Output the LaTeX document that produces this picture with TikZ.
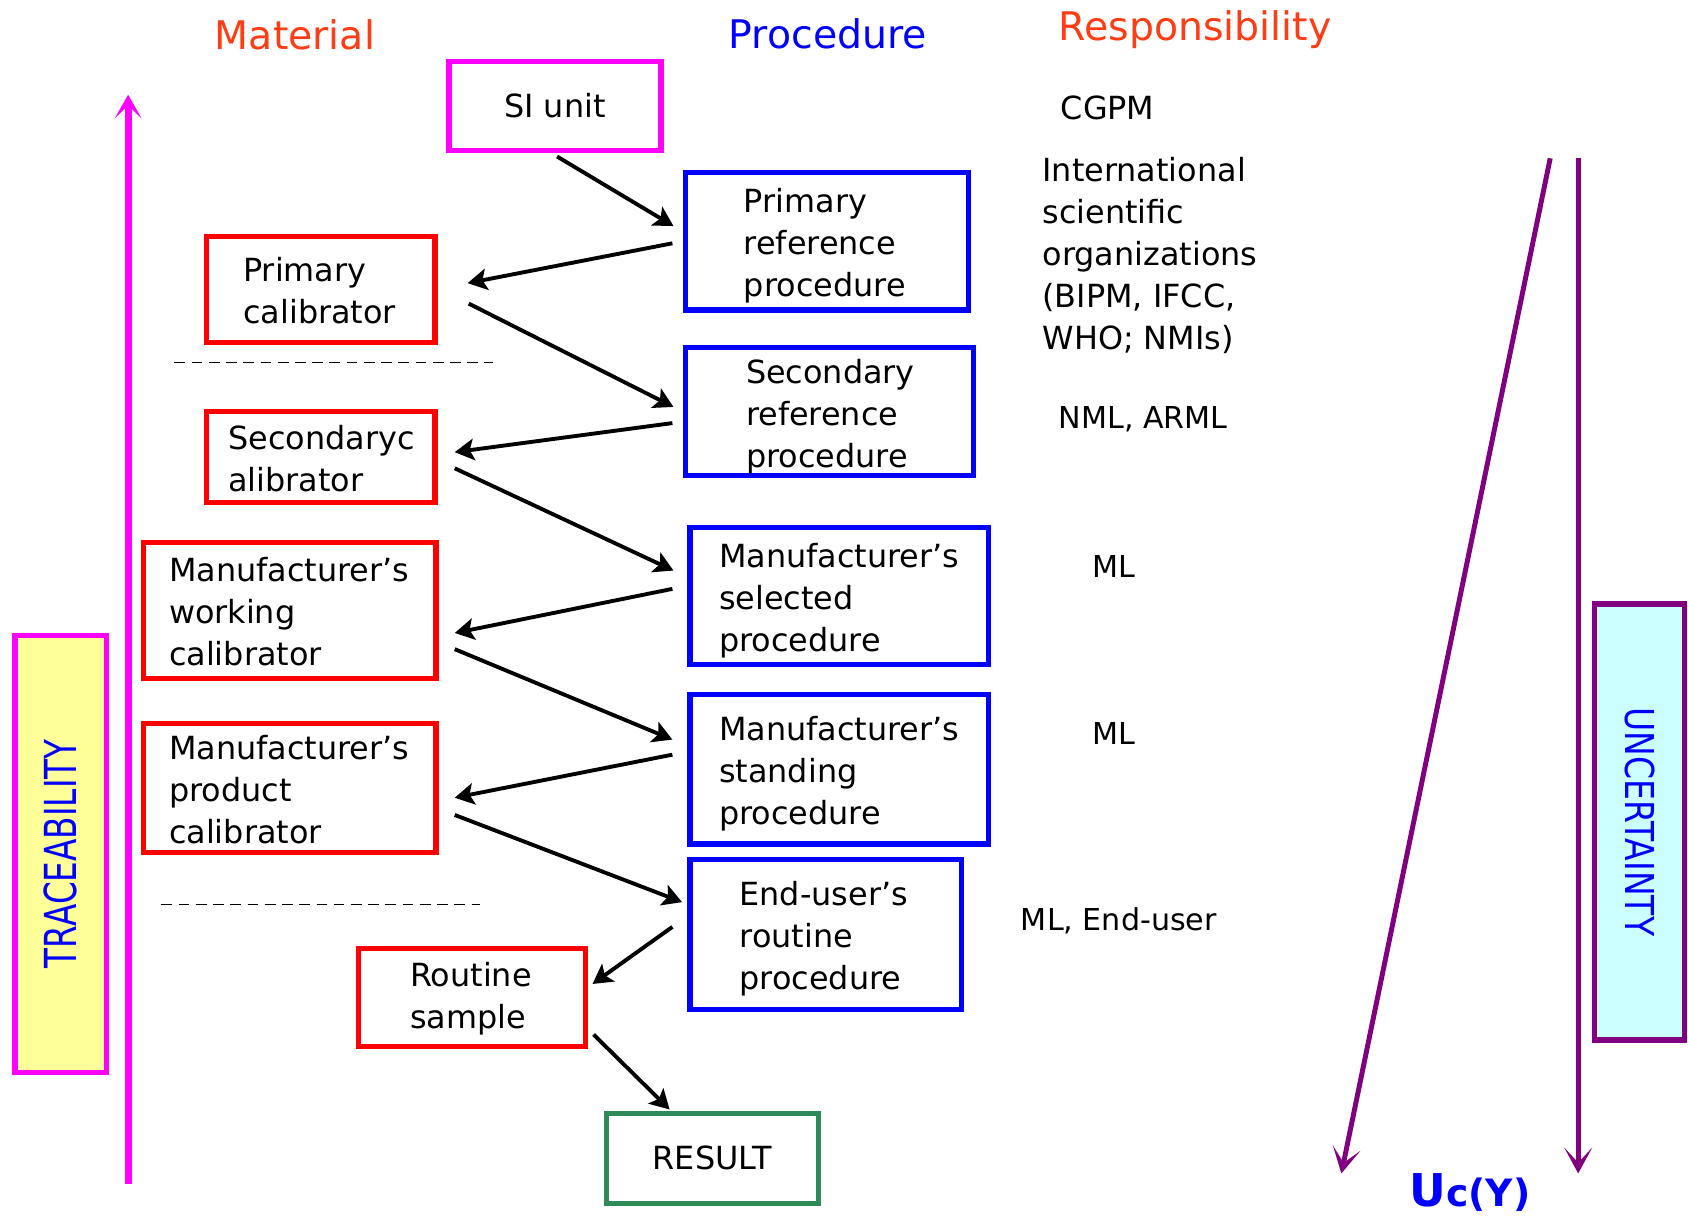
\documentclass[tikz,border=0pt]{standalone}
\usepackage{fontspec}
\setmainfont{DejaVu Sans}
\usetikzlibrary{arrows.meta,calc}
\definecolor{titlered}{RGB}{255,60,20}
\definecolor{pblue}{RGB}{0,0,255}
\definecolor{mag}{RGB}{255,0,255}
\definecolor{rgreen}{RGB}{46,139,87}
\definecolor{upurple}{RGB}{128,0,128}
\definecolor{tyellow}{RGB}{255,255,153}
\definecolor{ucyan}{RGB}{204,255,255}
\begin{document}
\begin{tikzpicture}[x=0.5pt,y=-0.5pt,
  boxtext/.style={font=\fontsize{14.8}{19.5}\selectfont, align=left, rectangle, line width=2.4pt},
  matbox/.style={draw=red, boxtext, inner ysep=0pt, execute at begin node={\rule{0pt}{12.6pt}}},
  procbox/.style={draw=pblue, boxtext, inner ysep=0pt, execute at begin node={\rule{0pt}{15.6pt}}},
  flow/.style={line width=1.8pt, -{Stealth[length=9pt,width=10pt,inset=2pt]}},
  titletext/.style={font=\fontsize{18.3}{22}\selectfont, anchor=base, inner sep=0pt},
  resp/.style={font=\fontsize{14.8}{19.5}\selectfont, align=left, anchor=west, inner sep=0pt},
  respsmall/.style={font=\fontsize{14}{18}\selectfont, anchor=west, inner sep=0pt},
  uarrow/.style={upurple, line width=2.3pt, -{Stealth[length=12pt,width=13pt,inset=7pt]}},
  sepline/.style={line width=0.6pt, dash pattern=on 5pt off 3pt},
]
\useasboundingbox (0,0) rectangle (1568,1130);

% titles
\node[titletext, text=titlered] (tmat) at (274,46) {Material};
\node[titletext, text=pblue] (tproc) at (769,45) {Procedure};
\node[titletext, text=titlered] (tresp) at (1110,38) {Responsibility};

% top SI unit
\node[draw=mag, boxtext, align=center, minimum width=98.5pt, minimum height=41.5pt] (si) at (515.5,98.5) {SI unit};

% procedure boxes
\node[procbox, minimum width=131.5pt, minimum height=64pt, text width=77.5pt, inner xsep=27pt] (prp) at (768.5,224) {Primary\\reference\\procedure};
\node[procbox, minimum width=133.5pt, minimum height=59.5pt, text width=77.5pt, inner xsep=28pt] (srp) at (770.5,382.5) {Secondary\\reference\\procedure};
\node[procbox, minimum width=138.5pt, minimum height=63.5pt, text width=111.5pt, inner xsep=13.5pt] (msp) at (779.5,553.5) {Manufacturer’s\\selected\\procedure};
\node[procbox, minimum width=138.5pt, minimum height=69.5pt, text width=111.5pt, inner xsep=13.5pt] (mstp) at (779.5,714.5) {Manufacturer’s\\standing\\procedure};
\node[procbox, minimum width=126pt, minimum height=70pt, text width=80pt, inner xsep=23pt] (eurp) at (767,868) {\mbox{End-user’s}\\routine\\procedure};

% material boxes
\node[matbox, minimum width=106pt, minimum height=49pt, text width=72pt, inner xsep=17pt] (pcal) at (298,269) {Primary\\calibrator};
\node[matbox, minimum width=106pt, minimum height=42.5pt, text width=86pt, inner xsep=10pt] (scal) at (298,424.5) {Secondaryc\\alibrator};
\node[matbox, minimum width=136pt, minimum height=63pt, text width=112pt, inner xsep=12pt] (mwc) at (269,567) {Manufacturer’s\\working\\calibrator};
\node[matbox, minimum width=136pt, minimum height=60pt, text width=112pt, inner xsep=12pt] (mpc) at (269,732) {Manufacturer’s\\product\\calibrator};
\node[matbox, minimum width=105.5pt, minimum height=45.5pt, text width=57.5pt, inner xsep=24pt] (rs) at (438.5,926.5) {Routine\\sample};
\node[draw=rgreen, boxtext, align=center, minimum width=98.5pt, minimum height=42pt] (result) at (661.5,1076) {RESULT};

% separators
\draw[sepline] (162,337) -- (458,337);
\draw[sepline] (150,840) -- (446,840);

% flow arrows
\draw[flow] ([shift={(2,3)}]si.south) -- ([shift={(-9,-14)}]prp.west);
\draw[flow] ([shift={(-10,2)}]prp.west) -- ([shift={(28,-6)}]pcal.east);
\draw[flow] ([shift={(29,13)}]pcal.east) -- ([shift={(-9,-4.5)}]srp.west);
\draw[flow] ([shift={(-10,10.5)}]srp.west) -- ([shift={(16,-4.5)}]scal.east);
\draw[flow] ([shift={(16,10.5)}]scal.east) -- ([shift={(-13,-23.5)}]msp.west);
\draw[flow] ([shift={(-14,-6.5)}]msp.west) -- ([shift={(15,21)}]mwc.east);
\draw[flow] ([shift={(15,36)}]mwc.east) -- ([shift={(-14,-27.5)}]mstp.west);
\draw[flow] ([shift={(-14,-13.5)}]mstp.west) -- ([shift={(15,9)}]mpc.east);
\draw[flow] ([shift={(15,25)}]mpc.east) -- ([shift={(-5,-30)}]eurp.west);
\draw[flow] ([shift={(-14,-7)}]eurp.west) -- ([shift={(4,-12.5)}]rs.east);
\draw[flow] ([shift={(5,34.5)}]rs.east) -- ([shift={(-39.5,-1)}]result.north);

% responsibility
\node[resp] (cgpm) at (985,100) {CGPM};
\node[resp] (intl) at (968,237) {International\\scientific\\organizations\\(BIPM, IFCC,\\WHO; NMIs)};
\node[respsmall] (nml) at (983,389) {NML, ARML};
\node[respsmall] (ml1) at (1014,526) {ML};
\node[respsmall] (ml2) at (1014,681) {ML};
\node[respsmall] (mleu) at (948,855) {ML, End-user};

% traceability
\node[draw=mag, fill=tyellow, line width=2.4pt, rotate=90, minimum width=203pt, minimum height=42.5pt, inner sep=0pt, text=pblue, font=\fontsize{20.5}{22}\selectfont] (trace) at (56.5,793) {\scalebox{0.74}[1]{TRACEABILITY}};
\coordinate (tb) at (119,1100);
\coordinate (tt) at (119,88);
\draw[mag, line width=3.2pt, -{Stealth[length=11pt,width=12.5pt,inset=6pt]}] (tb) -- (tt);

% uncertainty
\node[draw=upurple, fill=ucyan, line width=2.4pt, rotate=-90, minimum width=202.5pt, minimum height=42pt, inner sep=0pt, text=pblue, font=\fontsize{18.5}{20}\selectfont] (unc) at (1523,763.5) {\scalebox{0.83}[1]{UNCERTAINTY}};
\coordinate (u1s) at (1440,147);
\coordinate (u1e) at (1246,1090);
\coordinate (u2s) at (1466,147);
\coordinate (u2e) at (1466,1090);
\draw[uarrow] (u1s) -- (u1e);
\draw[uarrow] (u2s) -- (u2e);
\node[anchor=base west, inner sep=0pt, text=pblue] (ucy) at (1309,1121) {{\fontsize{21}{21}\selectfont\bfseries U}{\fontsize{17.5}{17.5}\selectfont\bfseries c(Y)}};
\end{tikzpicture}
\end{document}
